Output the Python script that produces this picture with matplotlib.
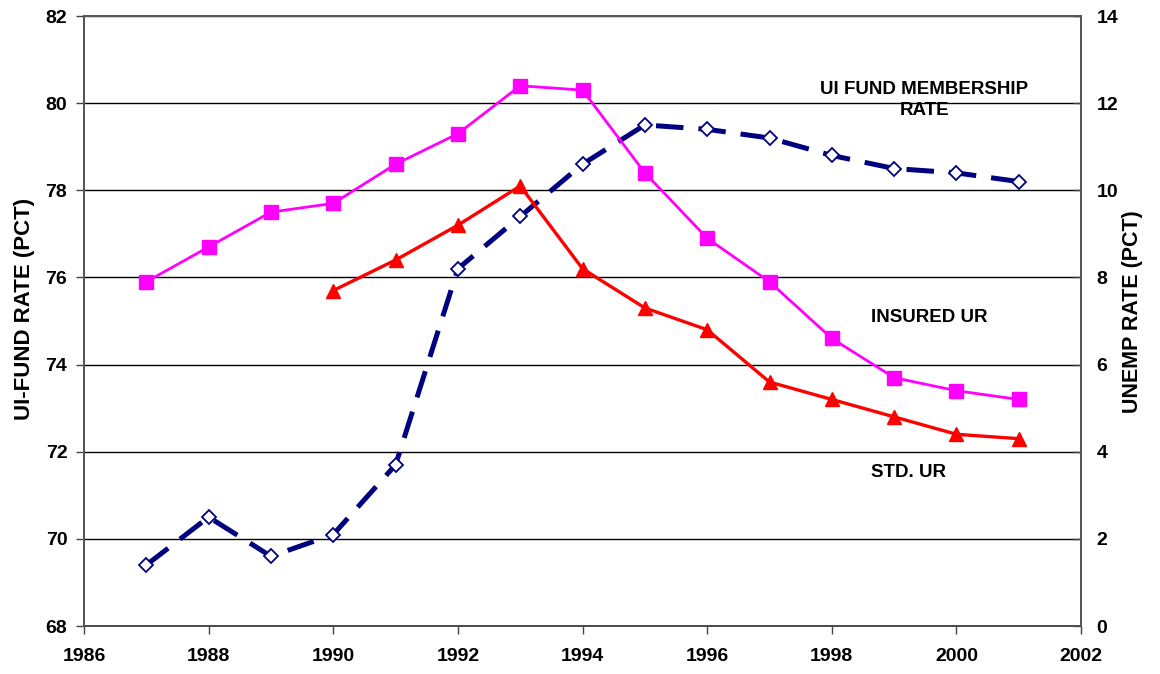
import numpy as np
import matplotlib.pyplot as plt

plt.rcParams['font.family'] = ['Liberation Sans', 'DejaVu Sans']
plt.rcParams['font.weight'] = 'bold'

# data
years = np.arange(1987, 2002)
fund_rate = [69.4, 70.5, 69.6, 70.1, 71.7, 76.2, 77.4, 78.6, 79.5, 79.4,
             79.2, 78.8, 78.5, 78.4, 78.2]
insured_ur = [7.9, 8.7, 9.5, 9.7, 10.6, 11.3, 12.4, 12.3, 10.4, 8.9,
              7.9, 6.6, 5.7, 5.4, 5.2]
std_years = np.arange(1990, 2002)
std_ur = [7.7, 8.4, 9.2, 10.1, 8.2, 7.3, 6.8, 5.6, 5.2, 4.8, 4.4, 4.3]

xticks = np.arange(1986, 2003, 2)
left_ticks = np.arange(68, 83, 2)
right_ticks = np.arange(0, 15, 2)

fig = plt.figure(figsize=(11.6, 6.74), dpi=100)
ax = fig.add_axes([0.0724, 0.0712, 0.8596, 0.905])
ax2 = ax.twinx()

ax.plot(years, fund_rate, color='#000080', lw=3.6, dashes=(5.5, 3),
        marker='D', ms=7, mfc='white', mec='#000080', mew=1.3, zorder=3)
ax2.plot(years, insured_ur, color='#FF00FF', lw=2, marker='s', ms=10,
         mfc='#FF00FF', mec='#FF00FF', zorder=3)
ax2.plot(std_years, std_ur, color='#FF0000', lw=2.4, marker='^', ms=10.5,
         mfc='#FF0000', mec='#FF0000', zorder=3)

ax.set_xlim(1986, 2002)
ax.set_ylim(68, 82)
ax2.set_ylim(0, 14)
ax.set_xticks(xticks)
ax.set_yticks(left_ticks)
ax2.set_yticks(right_ticks)

ax.yaxis.grid(True, color='black', lw=1)
ax.set_axisbelow(True)

for a in (ax, ax2):
    a.tick_params(labelsize=14, length=6, width=1, color='#444444')
    for s in a.spines.values():
        s.set_color('#555555')
        s.set_linewidth(1.3)
ax.tick_params(axis='x', pad=10)
ax.tick_params(axis='y', pad=6)
ax2.tick_params(axis='y', direction='in', pad=11)
ax.spines['top'].set_color('#888888')
ax.spines['bottom'].set_color('black')

ax.set_ylabel('UI-FUND RATE (PCT)', fontsize=16, fontweight='bold')
ax2.set_ylabel('UNEMP RATE (PCT)', fontsize=15.5, fontweight='bold')
ax.yaxis.set_label_coords(-0.049, 0.52)
ax2.yaxis.set_label_coords(1.041, 0.515)

ax.text(1999.48, 80.07, 'UI FUND MEMBERSHIP\nRATE', ha='center', va='center',
        fontsize=13.5, fontweight='bold', linespacing=1.35)
ax2.text(1999.56, 7.09, 'INSURED UR', ha='center', va='center',
         fontsize=13.5, fontweight='bold')
ax2.text(1999.23, 3.53, 'STD. UR', ha='center', va='center',
         fontsize=13.5, fontweight='bold')

fig.savefig('out.png', dpi=100)
